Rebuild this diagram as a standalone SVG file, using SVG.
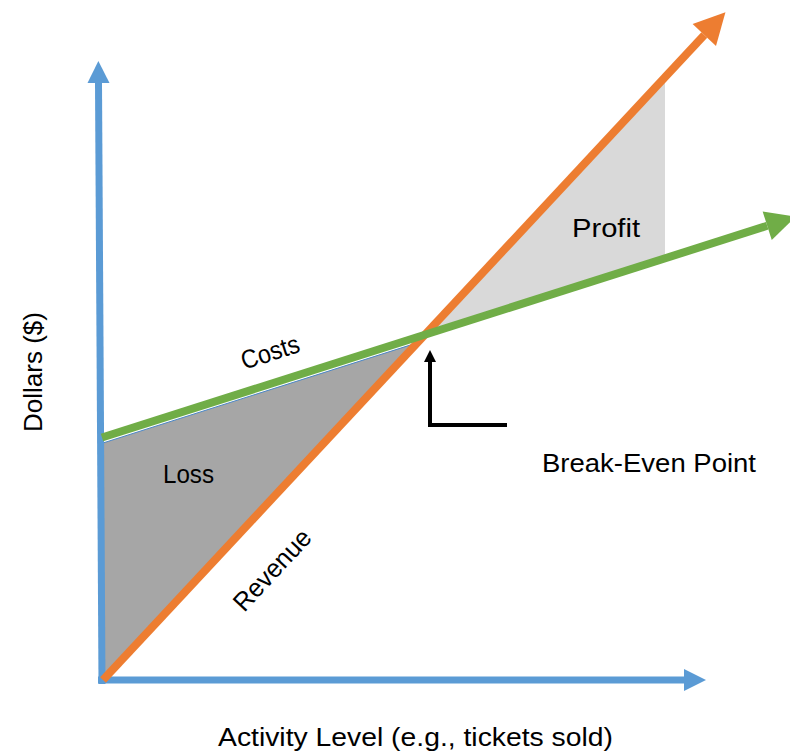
<svg xmlns="http://www.w3.org/2000/svg" width="790" height="753" viewBox="0 0 790 753">
<style>
.lbl{font-family:"Liberation Sans",Arial,sans-serif;font-size:26px;fill:#000}
.ax{stroke:#5b9bd5;stroke-width:7;fill:none}
.rev{stroke:#ed7d31;stroke-width:8;fill:none}
.cost{stroke:#70ad47;stroke-width:8;fill:none}
</style>
<defs>
<marker id="mBlue" markerUnits="userSpaceOnUse" markerWidth="24" markerHeight="24" refX="0" refY="11" orient="auto" viewBox="0 0 24 22" overflow="visible"><path d="M0,0 L22,11 L0,22 z" fill="#5b9bd5"/></marker>
<marker id="mOrange" markerUnits="userSpaceOnUse" markerWidth="32" markerHeight="32" refX="0" refY="16" orient="auto" viewBox="0 0 32 32" overflow="visible"><path d="M0,0 L31,16 L0,32 z" fill="#ed7d31"/></marker>
<marker id="mGreen" markerUnits="userSpaceOnUse" markerWidth="32" markerHeight="32" refX="0" refY="15" orient="auto" viewBox="0 0 32 30" overflow="visible"><path d="M0,0 L30,15 L0,30 z" fill="#70ad47"/></marker>
<marker id="mBlack" markerUnits="userSpaceOnUse" markerWidth="14" markerHeight="14" refX="0" refY="6" orient="auto" viewBox="0 0 14 12" overflow="visible"><path d="M0,0 L12,6 L0,12 z" fill="#000"/></marker>
</defs>
<g id="loss-region"><polygon points="103,443 418,342.6 103,680" fill="#a6a6a6" stroke="#4a86c5" stroke-width="1"/></g>
<g id="profit-region"><polygon points="425,335 665,77 665,257" fill="#d9d9d9"/></g>
<g id="connectors">
<line id="y-axis" class="ax" x1="102" y1="684" x2="98.5" y2="83" marker-end="url(#mBlue)"/>
<line id="x-axis" class="ax" x1="98" y1="680" x2="684" y2="680" marker-end="url(#mBlue)"/>
<line id="revenue-line" class="rev" x1="103" y1="680" x2="704.3" y2="35" marker-end="url(#mOrange)"/>
<line id="cost-line" class="cost" x1="102" y1="437.5" x2="767.2" y2="225.8" marker-end="url(#mGreen)"/>
<polyline id="break-even-arrow" points="507,425 430,425 430,362" fill="none" stroke="#000" stroke-width="4" stroke-linejoin="miter" marker-end="url(#mBlack)"/>
</g>
<g id="label-profit"><text class="lbl" x="572" y="237" textLength="68" lengthAdjust="spacingAndGlyphs">Profit</text></g>
<g id="label-loss"><text class="lbl" x="163" y="483" textLength="51" lengthAdjust="spacingAndGlyphs">Loss</text></g>
<g id="label-costs"><text class="lbl" transform="translate(272.8,360.6) rotate(-18)" x="0" y="0" text-anchor="middle" textLength="60" lengthAdjust="spacingAndGlyphs">Costs</text></g>
<g id="label-revenue"><text class="lbl" transform="translate(278.6,576) rotate(-47)" x="0" y="0" text-anchor="middle" textLength="101" lengthAdjust="spacingAndGlyphs">Revenue</text></g>
<g id="label-break-even"><text class="lbl" x="542" y="472" textLength="214" lengthAdjust="spacingAndGlyphs">Break-Even Point</text></g>
<g id="label-x-axis"><text class="lbl" x="218" y="746" textLength="395" lengthAdjust="spacingAndGlyphs">Activity Level (e.g., tickets sold)</text></g>
<g id="label-y-axis"><text class="lbl" transform="translate(42,372) rotate(-90)" x="0" y="0" text-anchor="middle" textLength="120" lengthAdjust="spacingAndGlyphs">Dollars ($)</text></g>
</svg>
